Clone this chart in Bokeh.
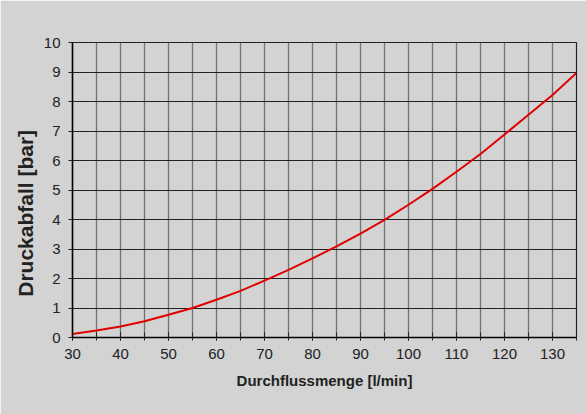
from bokeh.plotting import figure
from bokeh.models import SingleIntervalTicker, Range1d
from bokeh.embed import file_html
from bokeh.resources import INLINE

flow = [30, 35, 40, 45, 50, 55, 60, 65, 70, 75, 80, 85, 90, 95, 100, 105, 110, 115, 120, 125, 130, 135]
pressure = [0.12, 0.24, 0.37, 0.55, 0.77, 1.0, 1.28, 1.58, 1.93, 2.29, 2.68, 3.09, 3.52, 3.99, 4.5, 5.04, 5.62, 6.22, 6.88, 7.55, 8.22, 8.97]

BG = "#d2d3d2"
FONT = "Liberation Sans"

p = figure(width=586, height=414, output_backend="svg", toolbar_location=None,
           x_range=Range1d(30, 135), y_range=Range1d(0, 10),
           min_border_left=72, min_border_top=42, min_border_right=10, min_border_bottom=77)
p.background_fill_color = BG
p.border_fill_color = BG
p.outline_line_color = "#222222"
p.outline_line_width = 1.2

p.line(flow, pressure, line_color="#e00000", line_width=2)

p.xaxis.ticker = SingleIntervalTicker(interval=10, num_minor_ticks=2)
p.yaxis.ticker = SingleIntervalTicker(interval=1, num_minor_ticks=0)
p.xgrid.ticker = SingleIntervalTicker(interval=5)
p.xgrid.grid_line_color = "#5a5a5a"
p.xgrid.grid_line_width = 1.3
p.xgrid.grid_line_alpha = 0.8
p.ygrid.grid_line_color = "#222222"
p.ygrid.grid_line_width = 1

for ax in (p.xaxis[0], p.yaxis[0]):
    ax.axis_line_color = "#000000"
    ax.axis_line_width = 1.5
    ax.major_tick_line_color = "#222222"
    ax.minor_tick_line_color = "#222222"
    ax.major_label_text_font = FONT
    ax.major_label_text_font_size = "15px"
    ax.major_label_text_color = "#222222"
    ax.axis_label_text_font = FONT
    ax.axis_label_text_font_style = "bold"
    ax.axis_label_text_color = "#222222"

p.xaxis.major_tick_in = 5
p.xaxis.major_tick_out = 3
p.xaxis.minor_tick_in = 5
p.xaxis.minor_tick_out = 3
p.xaxis.major_label_standoff = 8
p.xaxis.axis_label = "Durchflussmenge [l/min]"
p.xaxis.axis_label_text_font_size = "15px"
p.xaxis.axis_label_standoff = 10

p.yaxis.major_tick_in = 0
p.yaxis.major_tick_out = 4
p.yaxis.major_label_standoff = 8
# trailing non-breaking spaces shift the centred label down, as in the original
p.yaxis.axis_label = "Druckabfall [bar]" + "\u00a0" * 8
p.yaxis.axis_label_text_font_size = "21px"
p.yaxis.axis_label_standoff = 4

open("out.html", "w").write(file_html(p, INLINE))
